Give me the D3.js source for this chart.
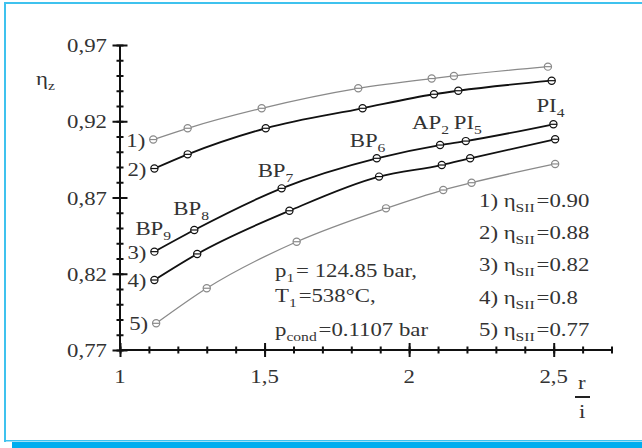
<!DOCTYPE html>
<html lang="en">
<head>
    <meta charset="UTF-8">
    <title>eta z</title>
    <style>
        body { margin: 0; background: #fff; }
        text { font-family: "Liberation Serif", "Times New Roman", serif; fill: #333; }
    </style>
</head>
<body>
<script src="https://cdnjs.cloudflare.com/ajax/libs/d3/7.8.5/d3.min.js"></script>
<script>
    // values
    const ratio1 = [1.115, 1.234, 1.49, 1.824, 2.078, 2.155, 2.48];
    const eta1 = [0.908, 0.9154, 0.9285, 0.9416, 0.948, 0.9497, 0.9558];
    const ratio2 = [1.119, 1.234, 1.504, 1.839, 2.086, 2.17, 2.493];
    const eta2 = [0.889, 0.8983, 0.9154, 0.9285, 0.9377, 0.940, 0.9466];
    const ratio3 = [1.119, 1.257, 1.559, 1.888, 2.107, 2.196, 2.499];
    const eta3 = [0.8345, 0.8487, 0.876, 0.8957, 0.9044, 0.907, 0.918];
    const ratio4 = [1.119, 1.267, 1.586, 1.896, 2.113, 2.211, 2.505];
    const eta4 = [0.8159, 0.833, 0.8613, 0.8837, 0.8913, 0.8957, 0.9082];
    const ratio5 = [1.125, 1.30, 1.611, 1.92, 2.118, 2.216, 2.505];
    const eta5 = [0.7875, 0.8105, 0.841, 0.8629, 0.8749, 0.8797, 0.892];

    const curveNames = ["1)", "2)", "3)", "4)", "5)"];
    const etaSII = ["0.90", "0.88", "0.82", "0.8", "0.77"];
    // labels of the points on curve 3: [main, subscript]
    const pointNames = [["BP", "9"], ["BP", "8"], ["BP", "7"], ["BP", "6"], ["AP", "2"], ["PI", "5"], ["PI", "4"]];

    const xTicks = [1, 1.5, 2, 2.5];
    const xTickLabels = ["1", "1,5", "2", "2,5"];
    const yTicks = [0.77, 0.82, 0.87, 0.92, 0.97];
    const yTickLabels = ["0,77", "0,82", "0,87", "0,92", "0,97"];

    const width = 642, height = 448;
    const stretch = 1.2; // the source font is drawn wide
    const fs = 19;

    const svg = d3.select("body").append("svg")
        .attr("width", width)
        .attr("height", height);

    // blue frame
    svg.append("rect").attr("x", 4).attr("y", 2).attr("width", 638).attr("height", 2).attr("fill", "#3fc2ee");
    svg.append("rect").attr("x", 4).attr("y", 2).attr("width", 2).attr("height", 440).attr("fill", "#3fc2ee");
    svg.append("rect").attr("x", 4).attr("y", 440).attr("width", 638).attr("height", 1.5).attr("fill", "#3fc2ee");
    svg.append("rect").attr("x", 12).attr("y", 442).attr("width", 630).attr("height", 6).attr("fill", "#00aeef");

    const xScale = d3.scaleLinear().domain([1, 2.5]).range([120, 553.7]);
    const yScale = d3.scaleLinear().domain([0.77, 0.97]).range([350, 45]);

    // helper: write stretched text with optional subscript
    function label(x, y, parts, anchor) {
        const g = svg.append("g").attr("transform", "translate(" + x + "," + y + ") scale(" + stretch + ",1)");
        const t = g.append("text").attr("font-size", fs).attr("text-anchor", anchor || "start");
        parts.forEach(p => {
            if (p.sub) {
                t.append("tspan").attr("font-size", 13).attr("dy", 5).text(p.sub);
                t.append("tspan").attr("font-size", fs).attr("dy", -5).text("\u200a");
            } else {
                t.append("tspan").text(p.t);
            }
        });
        return g;
    }

    // axes
    const minorX = d3.range(1, 2.701, 0.1);
    const minorY = d3.range(0.77, 0.9701, 0.01);

    const xAxis = svg.append("g")
        .attr("transform", "translate(0," + yScale(0.77) + ")")
        .call(d3.axisBottom(xScale).tickValues(minorX).tickSize(3.5).tickFormat(""));
    xAxis.select(".domain").attr("d", "M" + xScale(1) + ",0H" + xScale(2.7));
    xAxis.selectAll(".tick line").attr("y1", -3.5);
    svg.append("g")
        .attr("transform", "translate(0," + yScale(0.77) + ")")
        .call(d3.axisBottom(xScale).tickValues(xTicks).tickSize(7).tickFormat(""))
        .call(g => g.select(".domain").remove())
        .selectAll(".tick line").attr("y1", -7);

    const yAxis = svg.append("g")
        .attr("transform", "translate(" + xScale(1) + ",0)")
        .call(d3.axisLeft(yScale).tickValues(minorY).tickSize(3.5).tickFormat(""));
    yAxis.select(".domain").attr("d", "M0," + yScale(0.77) + "V" + yScale(0.97));
    yAxis.selectAll(".tick line").attr("x1", 3.5);
    svg.append("g")
        .attr("transform", "translate(" + xScale(1) + ",0)")
        .call(d3.axisLeft(yScale).tickValues(yTicks).tickSize(7.5).tickFormat(""))
        .call(g => g.select(".domain").remove())
        .selectAll(".tick line").attr("x1", 7.5);

    svg.selectAll(".domain, .tick line").attr("stroke", "#111").attr("stroke-width", 2);

    // tick labels
    xTicks.forEach((v, i) => label(xScale(v), 383, [{t: xTickLabels[i]}], "middle"));
    yTicks.forEach((v, i) => label(107, yScale(v) + 7, [{t: yTickLabels[i]}], "end"));

    // axis titles
    label(36, 85, [{t: "\u03b7"}, {sub: "z"}]);
    label(578, 389, [{t: "r"}]);
    svg.append("line").attr("x1", 575).attr("x2", 590).attr("y1", 397).attr("y2", 397)
        .attr("stroke", "#222").attr("stroke-width", 2);
    label(579, 418, [{t: "i"}]);

    // curves
    const series = [
        {x: ratio1, y: eta1, color: "#8a8a8a", w: 1.3},
        {x: ratio2, y: eta2, color: "#111", w: 1.8},
        {x: ratio3, y: eta3, color: "#111", w: 1.8},
        {x: ratio4, y: eta4, color: "#111", w: 1.8},
        {x: ratio5, y: eta5, color: "#8a8a8a", w: 1.3}
    ];

    const line = d3.line()
        .x(d => xScale(d[0]))
        .y(d => yScale(d[1]))
        .curve(d3.curveMonotoneX);

    series.forEach((s, i) => {
        const pts = s.x.map((v, j) => [v, s.y[j]]);
        svg.append("path")
            .datum(pts)
            .attr("fill", "none")
            .attr("stroke", s.color)
            .attr("stroke-width", s.w)
            .attr("d", line);

        const m = svg.append("g").selectAll("g")
            .data(pts)
            .enter().append("g")
            .attr("transform", d => "translate(" + xScale(d[0]) + "," + yScale(d[1]) + ")");
        m.append("circle").attr("r", 3.6).attr("fill", "#fff").attr("stroke", s.color).attr("stroke-width", 1.2);
        m.append("line").attr("x1", -3.6).attr("x2", 3.6).attr("stroke", s.color).attr("stroke-width", 1.2);

        // curve number left of first point
        label(xScale(pts[0][0]) - 27, yScale(pts[0][1]) + 7, [{t: curveNames[i]}]);
    });

    // labels of the points on curve 3
    const offsets = [[-19, -17], [-21, -15], [-24, -11], [-27, -11], [-28, -16], [-12, -12], [-17, -12]];
    pointNames.forEach((n, j) => {
        const px = xScale(ratio3[j]), py = yScale(eta3[j]);
        label(px + offsets[j][0], py + offsets[j][1], [{t: n[0]}, {sub: n[1]}]);
    });

    // legend
    etaSII.forEach((v, i) => {
        label(479, 207 + i * 32.2, [{t: curveNames[i] + " \u03b7"}, {sub: "SII"}, {t: "=" + v}]);
    });

    // operating conditions
    label(275, 277, [{t: "p"}, {sub: "1"}, {t: "= 124.85 bar,"}]);
    label(275, 302, [{t: "T"}, {sub: "1"}, {t: "=538\u00b0C,"}]);
    label(275, 336, [{t: "p"}, {sub: "cond"}, {t: "=0.1107 bar"}]);
</script>
</body>
</html>
